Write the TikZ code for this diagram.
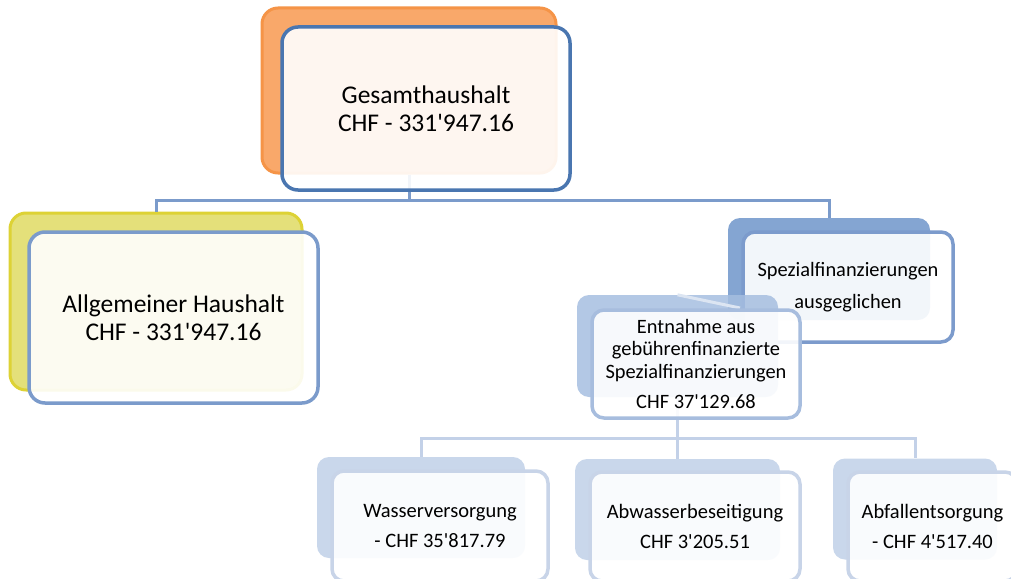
\documentclass[tikz,border=0pt]{standalone}
\usepackage{fontspec}
\setmainfont{Carlito}

\definecolor{orangeback}{HTML}{F9A86A}
\definecolor{orangeedge}{HTML}{F59447}
\definecolor{yellowback}{HTML}{E4E07A}
\definecolor{yellowedge}{HTML}{DDD235}
\definecolor{gesedge}{HTML}{4A76B0}
\definecolor{allgedge}{HTML}{7B9BCB}
\definecolor{spezback}{HTML}{84A5D2}
\definecolor{spezedge}{HTML}{7C9BCC}
\definecolor{entnback}{HTML}{A6BEE0}
\definecolor{entnedge}{HTML}{A7BDDE}
\definecolor{botback}{HTML}{C9D7EB}
\definecolor{botedge}{HTML}{C8D4E8}
\definecolor{botlink}{HTML}{C3D1E8}
\definecolor{diagline}{HTML}{DCE5F2}

\begin{document}
\begin{tikzpicture}[x=1pt, y=-1pt,
  box/.style={rectangle, rounded corners=12pt, inner sep=0pt, align=center},
  front/.style={box, line width=3.5pt, fill=white, fill opacity=0.9, text opacity=1},
  link/.style={line width=3pt}]

\useasboundingbox (0,0) rectangle (1011,578);
\clip (0,0) rectangle (1011,578);

% Back boxes that carry the connectors
\node[box, rounded corners=16pt, line width=3pt, draw=orangeedge, fill=orangeback,
  minimum width=294pt, minimum height=165pt] (gesB) at (409,90.5) {};
\node[box, rounded corners=16pt, line width=3pt, draw=yellowedge, fill=yellowback,
  minimum width=292pt, minimum height=177pt] (allgB) at (156,301.5) {};
\node[box, fill=spezback, minimum width=202pt, minimum height=102pt] (spezB) at (829,269) {};

% Connectors (level 1)
\draw[link, allgedge] (gesB.south) -- (gesB.south |- 0,200) -| (allgB.north);
\draw[link, allgedge] (gesB.south |- 0,200) -| (spezB.north);

% Front boxes (level 0 and 1)
\node[front, rounded corners=16pt, draw=gesedge, minimum width=288pt, minimum height=163pt,
  font=\fontsize{25.5}{28}\selectfont] (gesF) at (426,108.5)
  {Gesamthaushalt\\CHF - 331\textquotesingle947.16};
\node[front, rounded corners=16pt, draw=allgedge, minimum width=289pt, minimum height=171pt,
  font=\fontsize{25.5}{28}\selectfont] (allgF) at (173.5,317.5)
  {Allgemeiner Haushalt\\CHF - 331\textquotesingle947.16};
\node[front, draw=spezedge, minimum width=210pt, minimum height=110pt,
  font=\fontsize{20.4}{32}\selectfont] (spezF) at (848,287)
  {Spezialfinanzierungen\\ausgeglichen};

% Entnahme
\node[box, fill=entnback, fill opacity=0.85, minimum width=201pt, minimum height=102pt] (entnB) at (677.5,346) {};
\coordinate (spezIn) at (740,308);
\draw[link, diagline] (entnB.north) -- (spezIn);

% Level 3 back boxes
\foreach \name/\cx/\cy/\w in {wasB/421/507.5/208, abwB/677.5/509.5/205, abfB/915/509/164}
  \node[box, fill=botback, minimum width=\w pt, minimum height=101pt] (\name) at (\cx,\cy) {};

% Connectors (level 2)
\draw[link, botlink] (entnB.south) -- (entnB.south |- 0,438) -| (wasB.north);
\draw[link, botlink] (entnB.south |- 0,438) -| (abfB.north);
\draw[link, botlink] (entnB.south) -- (abwB.north);

\node[front, draw=entnedge, minimum width=208pt, minimum height=108pt,
  font=\fontsize{20.4}{22.5}\selectfont] (entnF) at (696,364)
  {Entnahme aus\\gebührenfinanzierte\\Spezialfinanzierungen\\[8pt]CHF 37\textquotesingle129.68};

% Level 3 front boxes
\node[front, draw=botedge, minimum width=216pt, minimum height=110pt,
  font=\fontsize{20.5}{30}\selectfont] (wasF) at (440,526) {Wasserversorgung\\- CHF 35\textquotesingle817.79};
\node[front, draw=botedge, minimum width=210pt, minimum height=109pt,
  font=\fontsize{20.5}{30}\selectfont] (abwF) at (695,526.5) {Abwasserbeseitigung\\CHF 3\textquotesingle205.51};
\node[front, draw=botedge, minimum width=169pt, minimum height=109pt,
  font=\fontsize{20.5}{30}\selectfont] (abfF) at (932.5,526.5) {Abfallentsorgung\\- CHF 4\textquotesingle517.40};

\end{tikzpicture}
\end{document}
